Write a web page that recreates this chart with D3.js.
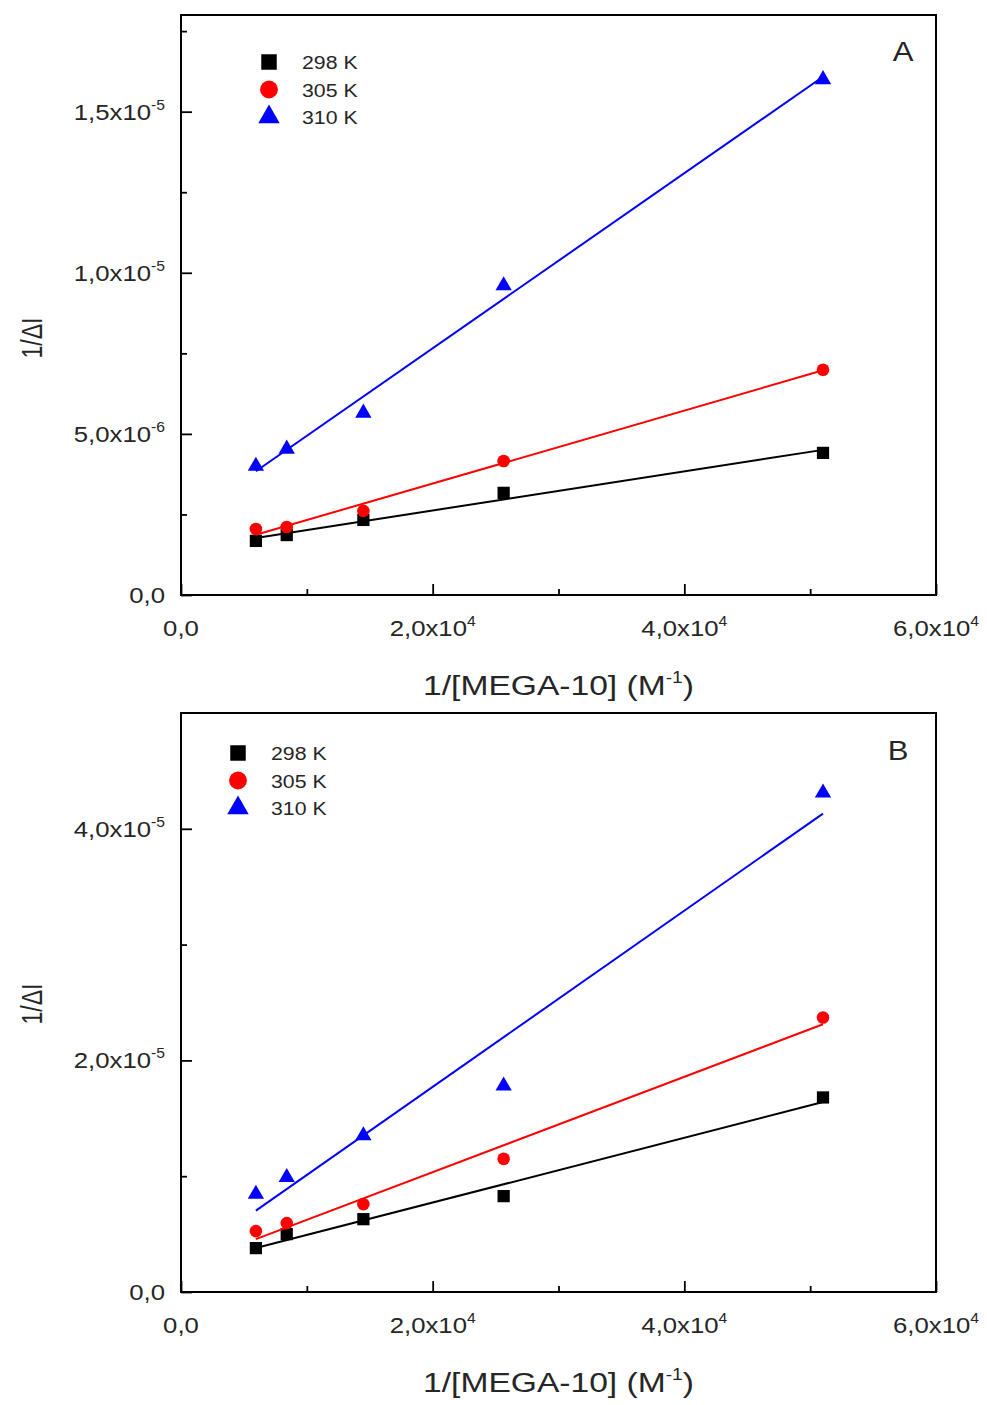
<!DOCTYPE html>
<html>
<head>
<meta charset="utf-8">
<script src="https://cdn.jsdelivr.net/npm/d3@7"></script>
<style>
  body { margin: 0; background: #fff; }
  svg { display: block; }
</style>
</head>
<body>
<div id="chart"></div>
<script>
// x values: 1/[MEGA-10] (M^-1), same for every series
const xConc = [5952, 8403, 14493, 25641, 51020];
const tempLabels = ["298 K", "305 K", "310 K"];
const colors = ["#000000", "#ff0000", "#0000ff"];

// panel A, 1/ΔI
const a298 = [1.68e-6, 1.86e-6, 2.33e-6, 3.17e-6, 4.41e-6];
const a305 = [2.05e-6, 2.11e-6, 2.61e-6, 4.16e-6, 6.99e-6];
const a310 = [4.0e-6, 4.53e-6, 5.65e-6, 9.6e-6, 16.0e-6];

// panel B, 1/ΔI
const b298 = [3.79e-6, 5.0e-6, 6.29e-6, 8.28e-6, 16.8e-6];
const b305 = [5.26e-6, 5.95e-6, 7.59e-6, 11.5e-6, 23.7e-6];
const b310 = [8.45e-6, 9.9e-6, 13.5e-6, 17.8e-6, 43.1e-6];

// ticks
const xTicks = [0, 2e4, 4e4, 6e4];
const xMinor = [1e4, 3e4, 5e4];
const aYTicks = [0, 5e-6, 1e-5, 1.5e-5];
const aYMinor = [2.5e-6, 7.5e-6, 1.25e-5, 1.75e-5];
const bYTicks = [0, 2e-5, 4e-5];
const bYMinor = [1e-5, 3e-5];

const W = 987, H = 1405;
const font = "'Liberation Sans', Arial, sans-serif";
const textCol = "#262626";

const svg = d3.select("#chart").append("svg")
    .attr("width", W).attr("height", H)
    .style("font-family", font);
svg.append("rect").attr("width", W).attr("height", H).attr("fill", "#fff");

const shapes = [d3.symbolSquare, d3.symbolCircle, d3.symbolTriangle];
const dataSizes = [150, 125, 115];
const legendSizes = [240, 250, 200];

// text with a slight sideways stretch, like the picture
function sText(parent, x, y, anchor, size, sx, rotate) {
    return parent.append("text")
        .attr("transform", `translate(${x},${y}) scale(${sx},1)` + (rotate ? ` rotate(${rotate})` : ""))
        .attr("text-anchor", anchor)
        .attr("font-size", size)
        .attr("fill", textCol);
}

// "1,5x10" + superscript exponent
function sciLabel(t, v, supSize) {
    if (v === 0) { t.text("0,0"); return; }
    const e = Math.floor(Math.log10(Math.abs(v)) + 1e-9);
    const m = (v / Math.pow(10, e)).toFixed(1).replace(".", ",");
    t.append("tspan").text(m + "x10");
    t.append("tspan").attr("font-size", supSize).attr("dy", -10).text(String(e));
}

function fit(xs, ys) {
    const mx = d3.mean(xs), my = d3.mean(ys);
    let sxy = 0, sxx = 0;
    xs.forEach((xv, i) => { sxy += (xv - mx) * (ys[i] - my); sxx += (xv - mx) ** 2; });
    const slope = sxy / sxx;
    return { slope, icpt: my - slope * mx };
}

function drawPanel(cfg) {
    const g = svg.append("g");
    const x = d3.scaleLinear().domain([0, 6e4]).range([cfg.left, cfg.right]);
    const y = d3.scaleLinear().domain([0, cfg.yMax]).range([cfg.bottom, cfg.top]);

    // ticks (inward)
    const tick = (sel) => {
        sel.select(".domain").remove();
        sel.selectAll("line").attr("stroke", "#000").attr("stroke-width", 1.8);
    };
    g.append("g").attr("transform", `translate(${cfg.left},0)`)
        .call(d3.axisLeft(y).tickValues(cfg.yTicks).tickSize(-11).tickFormat("")).call(tick);
    g.append("g").attr("transform", `translate(${cfg.left},0)`)
        .call(d3.axisLeft(y).tickValues(cfg.yMinor).tickSize(-6).tickFormat("")).call(tick);
    g.append("g").attr("transform", `translate(0,${cfg.bottom})`)
        .call(d3.axisBottom(x).tickValues(xTicks).tickSize(-11).tickFormat("")).call(tick);
    g.append("g").attr("transform", `translate(0,${cfg.bottom})`)
        .call(d3.axisBottom(x).tickValues(xMinor).tickSize(-6).tickFormat("")).call(tick);

    // frame
    g.append("rect")
        .attr("x", cfg.left).attr("y", cfg.top)
        .attr("width", cfg.right - cfg.left).attr("height", cfg.bottom - cfg.top)
        .attr("fill", "none").attr("stroke", "#000").attr("stroke-width", 2);

    // tick labels
    cfg.yTicks.forEach(v => sciLabel(sText(g, 165, y(v) + 8, "end", 23, 1.12), v, 14));
    xTicks.forEach(v => sciLabel(sText(g, x(v), cfg.bottom + 41, "middle", 23, 1.12), v, 14));

    // axis titles
    const xt = sText(g, (cfg.left + cfg.right) / 2, cfg.bottom + 100, "middle", 28, 1.2);
    xt.append("tspan").text("1/[MEGA-10] (M");
    xt.append("tspan").attr("font-size", 16).attr("dy", -12).text("-1");
    xt.append("tspan").attr("dy", 12).text(")");
    sText(g, 42, cfg.yTitle, "middle", 23, 1.25, -90).text("1/\u0394I");

    // panel letter
    sText(g, cfg.letterX, cfg.letterY, "middle", 27, 1.15).text(cfg.letter);

    // fit lines and points
    cfg.series.forEach((ys, i) => {
        const f = fit(xConc, ys);
        const x0 = xConc[0], x1 = xConc[xConc.length - 1];
        g.append("line")
            .attr("x1", x(x0)).attr("y1", y(f.icpt + f.slope * x0))
            .attr("x2", x(x1)).attr("y2", y(f.icpt + f.slope * x1))
            .attr("stroke", colors[i]).attr("stroke-width", 2);
        g.selectAll(null).data(ys).join("path")
            .attr("transform", (d, j) => `translate(${x(xConc[j])},${y(d)})`)
            .attr("d", d3.symbol(shapes[i], dataSizes[i]))
            .attr("fill", colors[i]);
    });

    // legend
    tempLabels.forEach((lab, i) => {
        const ly = cfg.legY + i * 27.5;
        g.append("path")
            .attr("transform", `translate(${cfg.legX},${ly})`)
            .attr("d", d3.symbol(shapes[i], legendSizes[i]))
            .attr("fill", colors[i]);
        sText(g, cfg.legX + 33, ly + 7, "start", 19, 1.12).text(lab);
    });
}

drawPanel({
    left: 181, right: 936, top: 15, bottom: 595,
    yMax: 1.8e-5, yTicks: aYTicks, yMinor: aYMinor,
    series: [a298, a305, a310],
    yTitle: 338, letter: "A", letterX: 903, letterY: 61,
    legX: 269, legY: 62
});

drawPanel({
    left: 181, right: 936, top: 713, bottom: 1292,
    yMax: 5e-5, yTicks: bYTicks, yMinor: bYMinor,
    series: [b298, b305, b310],
    yTitle: 1004, letter: "B", letterX: 898, letterY: 760,
    legX: 238, legY: 753
});
</script>
</body>
</html>
